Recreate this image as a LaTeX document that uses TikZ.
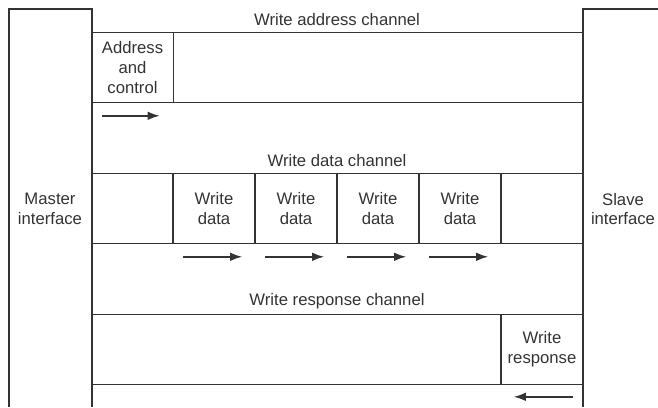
\documentclass[tikz,border=0pt]{standalone}
\usepackage{fontspec}
\setmainfont{Liberation Sans}
\usepackage{tikz}
\usetikzlibrary{calc,arrows.meta}
\definecolor{ink}{HTML}{333333}

\begin{document}
\begin{tikzpicture}[x=0.02cm,y=-0.02cm,>={Latex[length=2.4mm,width=1.7mm]},
  every node/.style={font=\fontsize{9.5}{11.3}\selectfont,text=ink,align=center},
  wire/.style={draw=ink,line width=0.9pt},
  cell/.style={wire,inner sep=0pt,minimum width=1.64cm,minimum height=1.4cm}]
\useasboundingbox (0,0) rectangle (658,407);
% interfaces
\draw[wire] (9,407) |- (92,9) -- (92,407);
\draw[wire] (583,407) |- (658,9);
\node (master) at (50,209) {Master\\interface};
\node (slave) at (623,209) {Slave\\interface};
% channels
\foreach \y/\t in {32.5/address,173.5/data,314.5/response}{
\draw[wire] (92,\y) -- (583,\y);
\draw[wire] (92,\y+70) -- (583,\y+70);
\node (ch\t) at (337,\y-13) {Write \t\ channel};}
\node[cell] (addr) at (132.5,67.5) {Address\\and\\control};
\foreach \i/\x in {1/214,2/296,3/378,4/460}{
\node[cell] (data\i) at (\x,208.5) {Write\\data};
\draw[wire,->] ($(data\i.south west)+(11,12.5)$) -- ++(59,0);}
\node[cell] (resp) at (542,349.5) {Write\\response};
\draw[wire,->] ($(addr.south west)+(11,12.5)$) -- ++(58,0);
\draw[wire,->] ($(resp.south east)+(-11,11.5)$) -- ++(-59,0);
\end{tikzpicture}
\end{document}
